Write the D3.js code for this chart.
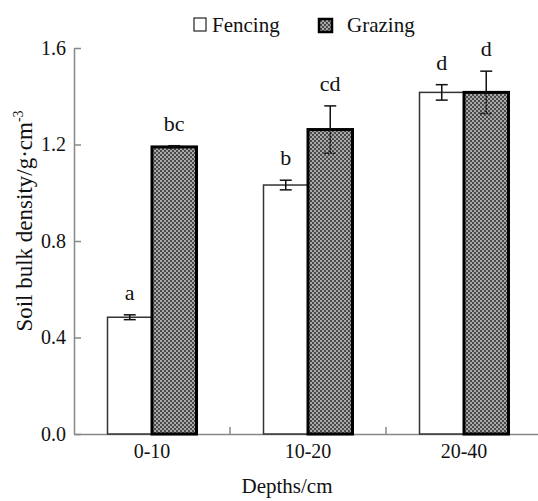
<!DOCTYPE html>
<html>
<head>
<meta charset="utf-8">
<script src="https://cdn.jsdelivr.net/npm/d3@7"></script>
<style>
  body { margin: 0; background: #fff; }
  svg { display: block; font-family: "Liberation Serif", "Times New Roman", serif; }
</style>
</head>
<body>
<div id="chart"></div>
<script>
const depths = ['0-10', '10-20', '20-40'];
const treatments = ['Fencing', 'Grazing'];
const fencing = [0.484, 1.032, 1.416];
const grazing = [1.19, 1.262, 1.416];
const fencingErr = [0.01, 0.02, 0.032];
const grazingErr = [0.005, 0.098, 0.088];
const fencingLetters = ['a', 'b', 'd'];
const grazingLetters = ['bc', 'cd', 'd'];
const yTicks = [0, 0.4, 0.8, 1.2, 1.6];

const width = 538;
const height = 501;

const svg = d3.select('#chart')
  .append('svg')
  .attr('width', width)
  .attr('height', height)
  .attr('viewBox', [0, 0, width, height]);

// checker pattern for grazing bars
const pat = svg.append('defs').append('pattern')
  .attr('id', 'checker')
  .attr('width', 4).attr('height', 4)
  .attr('patternUnits', 'userSpaceOnUse');
pat.append('rect').attr('width', 4).attr('height', 4).attr('fill', '#a8a8a8');
pat.append('rect').attr('width', 2).attr('height', 2).attr('fill', '#4a4a4a');
pat.append('rect').attr('x', 2).attr('y', 2).attr('width', 2).attr('height', 2).attr('fill', '#4a4a4a');

const x = d3.scaleBand()
  .domain(depths)
  .range([74, 542])
  .padding(0);

const xSub = d3.scaleBand()
  .domain(treatments)
  .range([0, x.bandwidth()])
  .paddingInner(0)
  .paddingOuter(0.753);

const y = d3.scaleLinear()
  .domain([0, 1.6])
  .range([434, 48]);

const rows = depths.map((d, i) => ({
  depth: d,
  bars: [
    { key: 'Fencing', v: fencing[i], e: fencingErr[i], letter: fencingLetters[i] },
    { key: 'Grazing', v: grazing[i], e: grazingErr[i], letter: grazingLetters[i] }
  ]
}));

// axes
const yAxisG = svg.append('g')
  .attr('transform', `translate(${x.range()[0]},0)`)
  .call(d3.axisLeft(y).tickValues(yTicks).tickFormat(d3.format('.1f'))
    .tickSizeInner(-7).tickSizeOuter(0).tickPadding(8));
yAxisG.select('.domain').attr('stroke', '#888').attr('stroke-width', 1.5);
yAxisG.selectAll('.tick line').attr('stroke', '#888').attr('stroke-width', 1.5);
yAxisG.selectAll('.tick text')
  .attr('font-family', 'Liberation Serif').attr('font-size', 20).attr('fill', '#111');

const xAxisG = svg.append('g')
  .attr('transform', `translate(0,${y(0)})`)
  .call(d3.axisBottom(x).tickSize(0).tickPadding(10));
xAxisG.select('.domain').attr('stroke', '#888').attr('stroke-width', 1.5);
xAxisG.selectAll('.tick text')
  .attr('font-family', 'Liberation Serif').attr('font-size', 20).attr('fill', '#111');

// boundary ticks between groups
svg.append('g').selectAll('line')
  .data(depths.slice(0, -1))
  .join('line')
  .attr('x1', d => x(d) + x.bandwidth())
  .attr('x2', d => x(d) + x.bandwidth())
  .attr('y1', y(0))
  .attr('y2', y(0) - 7)
  .attr('stroke', '#888')
  .attr('stroke-width', 1.5);

const groups = svg.append('g').selectAll('g')
  .data(rows)
  .join('g')
  .attr('transform', d => `translate(${x(d.depth)},0)`);

// fencing bars first, grazing on top
treatments.forEach(t => {
  const isG = t === 'Grazing';
  groups.append('rect')
    .datum(d => d.bars.find(b => b.key === t))
    .attr('x', d => xSub(d.key))
    .attr('y', d => y(d.v))
    .attr('width', xSub.bandwidth())
    .attr('height', d => y(0) - y(d.v))
    .attr('fill', isG ? 'url(#checker)' : '#fff')
    .attr('stroke', isG ? '#000' : '#333')
    .attr('stroke-width', isG ? 3 : 1.5);
});

const capW = 6;
groups.each(function (row) {
  const g = d3.select(this);
  row.bars.forEach(b => {
    const cx = xSub(b.key) + xSub.bandwidth() / 2;
    const isG = b.key === 'Grazing';
    // upper half
    g.append('line')
      .attr('x1', cx).attr('x2', cx)
      .attr('y1', y(b.v)).attr('y2', y(b.v + b.e))
      .attr('stroke', '#111').attr('stroke-width', 1.5);
    g.append('line')
      .attr('x1', cx - capW).attr('x2', cx + capW)
      .attr('y1', y(b.v + b.e)).attr('y2', y(b.v + b.e))
      .attr('stroke', '#111').attr('stroke-width', 1.5);
    // lower half
    g.append('line')
      .attr('x1', cx).attr('x2', cx)
      .attr('y1', y(b.v)).attr('y2', y(b.v - b.e))
      .attr('stroke', '#111').attr('stroke-width', 1.5)
      .attr('stroke-dasharray', isG ? '2,1' : null);
    g.append('line')
      .attr('x1', cx - capW).attr('x2', cx + capW)
      .attr('y1', y(b.v - b.e)).attr('y2', y(b.v - b.e))
      .attr('stroke', '#111').attr('stroke-width', 1.5)
      .attr('stroke-dasharray', isG ? '2,1' : null);
    // significance letter
    g.append('text')
      .attr('x', cx)
      .attr('y', y(b.v + b.e) - 15)
      .attr('text-anchor', 'middle')
      .attr('font-size', 22)
      .attr('fill', '#111')
      .text(b.letter);
  });
});

// axis titles
svg.append('text')
  .attr('x', 287)
  .attr('y', 493)
  .attr('text-anchor', 'middle')
  .attr('font-size', 21)
  .attr('fill', '#111')
  .text('Depths/cm');

const yTitle = svg.append('text')
  .attr('transform', 'translate(32,221) rotate(-90)')
  .attr('text-anchor', 'middle')
  .attr('font-size', 23)
  .attr('fill', '#111');
yTitle.append('tspan').text('Soil bulk density/g·cm');
yTitle.append('tspan').attr('font-size', 14).attr('dy', -9).text('-3');

// legend
const legend = svg.append('g');
legend.append('rect')
  .attr('x', 194).attr('y', 18).attr('width', 12).attr('height', 13)
  .attr('fill', '#fff').attr('stroke', '#222').attr('stroke-width', 1.2);
legend.append('text')
  .attr('x', 212).attr('y', 32).attr('font-size', 21).attr('fill', '#111')
  .text('Fencing');
legend.append('rect')
  .attr('x', 319).attr('y', 19).attr('width', 13).attr('height', 13)
  .attr('fill', 'url(#checker)').attr('stroke', '#000').attr('stroke-width', 2.5);
legend.append('text')
  .attr('x', 347).attr('y', 32).attr('font-size', 21).attr('fill', '#111')
  .text('Grazing');
</script>
</body>
</html>
